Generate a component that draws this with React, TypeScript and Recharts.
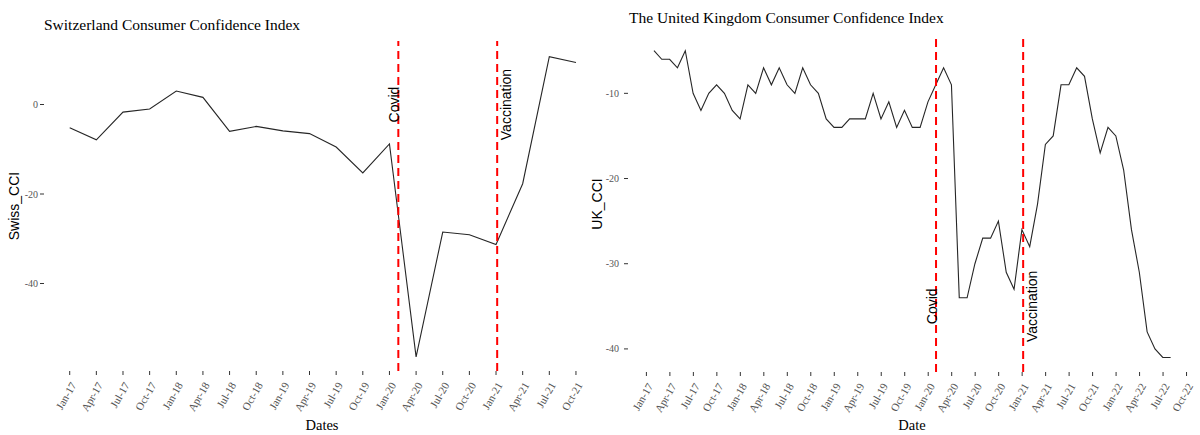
import React from "react";
import {
  LineChart,
  Line,
  XAxis,
  YAxis,
  ReferenceLine,
  ReferenceDot,
} from "recharts";

// quarter tick labels shared by both panels
const quarterLabels = [
  "Jan-17", "Apr-17", "Jul-17", "Oct-17",
  "Jan-18", "Apr-18", "Jul-18", "Oct-18",
  "Jan-19", "Apr-19", "Jul-19", "Oct-19",
  "Jan-20", "Apr-20", "Jul-20", "Oct-20",
  "Jan-21", "Apr-21", "Jul-21", "Oct-21",
  "Jan-22", "Apr-22", "Jul-22", "Oct-22",
];

const swissDates = [
  "2017-01-01", "2017-04-01", "2017-07-01", "2017-10-01",
  "2018-01-01", "2018-04-01", "2018-07-01", "2018-10-01",
  "2019-01-01", "2019-04-01", "2019-07-01", "2019-10-01",
  "2020-01-01", "2020-04-01", "2020-07-01", "2020-10-01",
  "2021-01-01", "2021-04-01", "2021-07-01", "2021-10-01",
];
const swissCCI = [
  -5.2, -7.9, -1.7, -1.0, 3.0, 1.6, -6.0, -4.9, -5.9, -6.5,
  -9.5, -15.3, -8.8, -56.4, -28.5, -29.1, -31.3, -17.7, 10.7, 9.4,
];

// monthly, Jan-17 .. Jul-22 (month-end dates)
const ukFirstMonth = "2017-01";
const ukCCI = [
  -5, -6, -6, -7, -5, -10, -12, -10, -9, -10, -12, -13,
  -9, -10, -7, -9, -7, -9, -10, -7, -9, -10, -13, -14,
  -14, -13, -13, -13, -10, -13, -11, -14, -12, -14, -14, -11,
  -9, -7, -9, -34, -34, -30, -27, -27, -25, -31, -33, -26,
  -28, -23, -16, -15, -9, -9, -7, -8, -13, -17, -14, -15,
  -19, -26, -31, -38, -40, -41, -41,
];

const covidDate = "2020-02-01";
const vaccinationDate = "2021-01-05";

// months since Jan 2017
const monthPos = (iso: string) => {
  const d = new Date(iso + "T00:00:00Z");
  const y = d.getUTCFullYear();
  const m = d.getUTCMonth();
  const dim = new Date(Date.UTC(y, m + 1, 0)).getUTCDate();
  return (y - 2017) * 12 + m + (d.getUTCDate() - 1) / dim;
};

const monthEnd = (start: string, i: number) => {
  const [y, m] = start.split("-").map(Number);
  const d = new Date(Date.UTC(y, m - 1 + i + 1, 0));
  return d.toISOString().slice(0, 10);
};

const swissData = swissDates.map((d, i) => ({ x: monthPos(d), v: swissCCI[i] }));
const ukData = ukCCI.map((v, i) => ({ x: monthPos(monthEnd(ukFirstMonth, i)), v }));

const swissTicks = quarterLabels.slice(0, 20).map((_, i) => i * 3);
const ukTicks = quarterLabels.map((_, i) => i * 3);

const covidX = monthPos(covidDate);
const vaccX = monthPos(vaccinationDate);

const SERIF = "'Liberation Serif', 'Times New Roman', serif";
const SANS = "'Liberation Sans', Arial, sans-serif";

const DateTick = (props: any) => {
  const { x, y, payload } = props;
  const label = quarterLabels[Math.round(payload.value / 3)];
  const px = x + 7;
  const py = y + 8;
  return (
    <text
      x={px}
      y={py}
      textAnchor="end"
      transform={`rotate(-60 ${px} ${py})`}
      fontFamily={SERIF}
      fontSize={11}
      fill="#555"
    >
      {label}
    </text>
  );
};

const eventLabel = (text: string, dx: number) => (props: any) => {
  const vb = props.viewBox || {};
  const cx = vb.x + (vb.width || 0) / 2 + dx;
  const cy = vb.y + (vb.height || 0) / 2;
  return (
    <text
      x={cx}
      y={cy}
      textAnchor="middle"
      transform={`rotate(-90 ${cx} ${cy})`}
      fontFamily={SANS}
      fontSize={14}
      fill="#000"
    >
      {text}
    </text>
  );
};

const yTick = { fontFamily: SERIF, fontSize: 10, fill: "#555" };

const abs = (left: number, top: number): React.CSSProperties => ({
  position: "absolute",
  left,
  top,
  whiteSpace: "nowrap",
  lineHeight: 1,
});

export default function App() {
  return (
    <div
      style={{
        position: "absolute",
        left: 0,
        top: 0,
        width: 1200,
        height: 435,
        background: "#fff",
        overflow: "hidden",
      }}
    >
      <div style={abs(0, 0)}>
        <LineChart width={590} height={435} data={swissData} margin={{ top: 41, right: 0, bottom: 0, left: 0 }}>
          <XAxis
            dataKey="x"
            type="number"
            domain={[-2.894, 58.58]}
            allowDataOverflow
            ticks={swissTicks}
            interval={0}
            height={64}
            axisLine={false}
            tickSize={4}
            tickLine={{ stroke: "#333" }}
            tick={<DateTick />}
          />
          <YAxis
            type="number"
            domain={[-59.55, 14.19]}
            allowDataOverflow
            ticks={[-40, -20, 0]}
            width={44}
            axisLine={false}
            tickSize={4}
            tickMargin={2}
            tickLine={{ stroke: "#333" }}
            tick={yTick}
          />
          <Line type="linear" dataKey="v" stroke="#262626" strokeWidth={1.1} dot={false} isAnimationActive={false} />
          <ReferenceLine x={covidX} stroke="#ff0000" strokeWidth={2} strokeDasharray="8 5" />
          <ReferenceLine x={vaccX} stroke="#ff0000" strokeWidth={2} strokeDasharray="8 5" />
          <ReferenceDot x={covidX} y={0} r={1} fill="none" stroke="none" label={{ content: eventLabel("Covid", 1) }} />
          <ReferenceDot x={vaccX} y={0} r={1} fill="none" stroke="none" label={{ content: eventLabel("Vaccination", 13.5) }} />
        </LineChart>
      </div>

      <div style={abs(590, 0)}>
        <LineChart width={610} height={435} data={ukData} margin={{ top: 36, right: 0, bottom: 0, left: 0 }}>
          <XAxis
            dataKey="x"
            type="number"
            domain={[-2.35, 70.72]}
            allowDataOverflow
            ticks={ukTicks}
            interval={0}
            height={63}
            axisLine={false}
            tickSize={4}
            tickLine={{ stroke: "#333" }}
            tick={<DateTick />}
          />
          <YAxis
            type="number"
            domain={[-42.71, -3.27]}
            allowDataOverflow
            ticks={[-40, -30, -20, -10]}
            width={38}
            axisLine={false}
            tickSize={4}
            tickMargin={5}
            tickLine={{ stroke: "#333" }}
            tick={yTick}
          />
          <Line type="linear" dataKey="v" stroke="#262626" strokeWidth={1.1} dot={false} isAnimationActive={false} />
          <ReferenceLine x={covidX} stroke="#ff0000" strokeWidth={2} strokeDasharray="8 5" />
          <ReferenceLine x={vaccX} stroke="#ff0000" strokeWidth={2} strokeDasharray="8 5" />
          <ReferenceDot x={covidX} y={-35} r={1} fill="none" stroke="none" label={{ content: eventLabel("Covid", 1) }} />
          <ReferenceDot x={vaccX} y={-35} r={1} fill="none" stroke="none" label={{ content: eventLabel("Vaccination", 13.5) }} />
        </LineChart>
      </div>

      {/* titles and axis titles */}
      <div style={{ ...abs(44, 17), fontFamily: SERIF, fontSize: 15.5, color: "#000" }}>
        Switzerland Consumer Confidence Index
      </div>
      <div style={{ ...abs(629, 10), fontFamily: SERIF, fontSize: 15.5, color: "#000" }}>
        The United Kingdom Consumer Confidence Index
      </div>
      <div style={{ ...abs(322, 418), fontFamily: SERIF, fontSize: 14.5, transform: "translateX(-50%)" }}>
        Dates
      </div>
      <div style={{ ...abs(912, 418), fontFamily: SERIF, fontSize: 14.5, transform: "translateX(-50%)" }}>
        Date
      </div>
      <div
        style={{
          ...abs(14, 206),
          fontFamily: SANS,
          fontSize: 14,
          transform: "translate(-50%, -50%) rotate(-90deg)",
        }}
      >
        Swiss_CCI
      </div>
      <div
        style={{
          ...abs(597, 204),
          fontFamily: SANS,
          fontSize: 14,
          transform: "translate(-50%, -50%) rotate(-90deg)",
        }}
      >
        UK_CCI
      </div>
    </div>
  );
}
